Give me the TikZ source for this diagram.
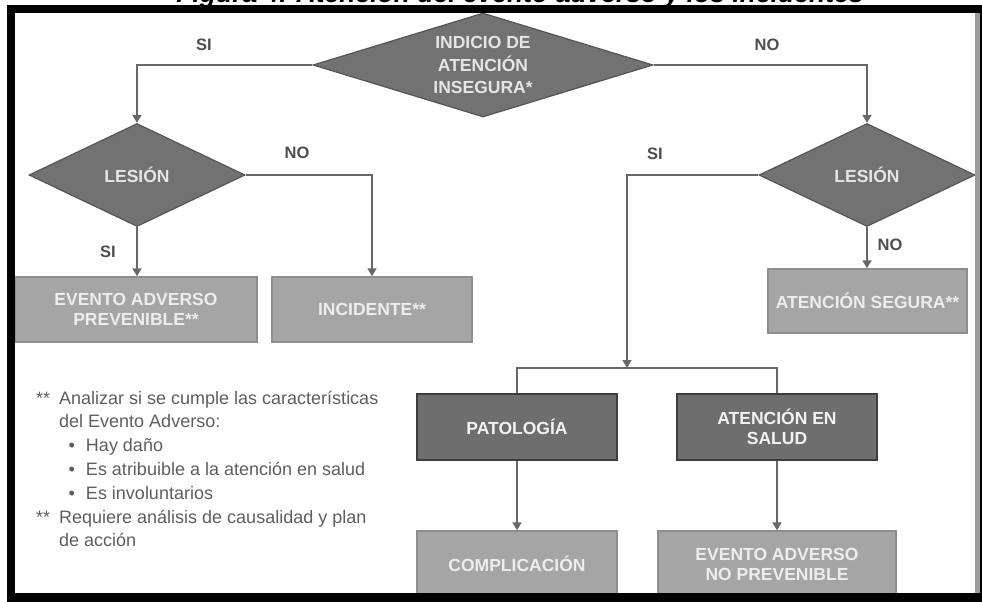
\documentclass[tikz,border=0pt]{standalone}
\usepackage{fontspec}
\setmainfont{Liberation Sans}
\usetikzlibrary{positioning,shapes.geometric,arrows.meta}

\definecolor{diamfill}{HTML}{727272}
\definecolor{diamline}{HTML}{555555}
\definecolor{lightfill}{HTML}{A5A5A5}
\definecolor{lightline}{HTML}{8E8E8E}
\definecolor{darkfill}{HTML}{6E6E6E}
\definecolor{darkline}{HTML}{3E3E3E}
\definecolor{linecol}{HTML}{686868}
\definecolor{lblcol}{HTML}{4E4E4E}
\definecolor{notecol}{HTML}{5E5E5E}
\definecolor{striprgb}{HTML}{9A9A9A}

\begin{document}
\begin{tikzpicture}[x=1pt, y=1pt, node distance=110pt]
            \tikzset{
                decision/.style = {diamond, aspect=2.1, inner sep=0pt, minimum width=216pt, minimum height=103pt, line width=1.2pt, draw=diamline, fill=diamfill, text=white!90!black, align=center, font=\bfseries\fontsize{17.5}{22.5}\selectfont},
                lightbox/.style = {rectangle, line width=1.4pt, minimum width=200pt, minimum height=65pt, inner sep=1pt, text centered, align=center, draw=lightline, fill=lightfill, text=white!93!black, font=\bfseries\fontsize{17.5}{20}\selectfont},
                darkbox/.style = {lightbox, draw=darkline, fill=darkfill, text=white!95!black},
                lbl/.style = {text=lblcol, font=\bfseries\fontsize{16.5}{18}\selectfont},
                arrow/.style = {line width=1.8pt, draw=linecol, -{Triangle[width=9pt,length=8pt]}},
                link/.style = {line width=1.8pt, draw=linecol}
            }
            \useasboundingbox (0,0) rectangle (982,-602);
            \node (titulo) [anchor=base, font=\bfseries\itshape\fontsize{26.5}{30}\selectfont] at (520,-3) {Figura 4. Atención del evento adverso y los incidentes};

            \node (indicio) [decision, aspect=3.27, minimum width=340pt, minimum height=104pt] at (483,-65) {INDICIO DE\\ATENCIÓN\\INSEGURA*};
            \node (lesionL) [decision, below of=indicio, xshift=-346pt] {LESIÓN};
            \node (lesionR) [decision, below of=indicio, xshift=384pt] {LESIÓN};

            \node (eap) [lightbox, minimum width=242pt, below of=lesionL, xshift=-1pt, yshift=-24.5pt] {EVENTO ADVERSO\\PREVENIBLE**};
            \node (incid) [lightbox, right of=eap, xshift=126pt] {INCIDENTE**};
            \node (segura) [lightbox, minimum width=199pt, minimum height=64pt, below of=lesionR, xshift=0.5pt, yshift=-16pt] {ATENCIÓN SEGURA**};

            \coordinate[below of=lesionR, xshift=-240pt, yshift=-83pt] (split);
            \node (patol) [darkbox, minimum height=66pt, below of=incid, xshift=145pt, yshift=-7.5pt] {PATOLOGÍA};
            \node (atsalud) [darkbox, minimum height=66pt, right of=patol, xshift=150pt] {ATENCIÓN EN\\SALUD};
            \node (compl) [lightbox, minimum height=66pt, below of=patol, yshift=-27pt] {COMPLICACIÓN};
            \node (eanp) [lightbox, minimum width=238pt, minimum height=66pt, below of=atsalud, yshift=-27pt] {EVENTO ADVERSO\\NO PREVENIBLE};

            \draw [arrow] (indicio.west) -| (lesionL.north);
            \draw [arrow] (indicio.east) -| (lesionR.north);
            \draw [arrow] (lesionL.south) -- (lesionL.south |- eap.north);
            \draw [arrow] (lesionL.east) -| (incid.north);
            \draw [arrow] (lesionR.south) -- (lesionR.south |- segura.north);
            \draw [arrow] (lesionR.west) -| (split);
            \draw [link] (patol.north) |- (split) -| (atsalud.north);
            \draw [arrow] (patol.south) -- (compl.north);
            \draw [arrow] (atsalud.south) -- (eanp.north);

            \node (siTop) [lbl] at (204,-45) {SI};
            \node (noTop) [lbl] at (767,-45) {NO};
            \node (noL) [lbl] at (297,-153) {NO};
            \node (siL) [lbl] at (108,-252) {SI};
            \node (siR) [lbl] at (655,-154) {SI};
            \node (noR) [lbl] at (890,-245) {NO};

            % notas al pie
            \node (nota) [anchor=base west, inner sep=0pt, text=notecol, font=\fontsize{18}{23.8}\selectfont] at (36,-404) {%
                \begin{tabular}[t]{@{}p{23pt}@{}l@{}}
                {**} & Analizar si se cumple las características\\
                     & del Evento Adverso:\\
                     & \hspace{9.5pt}•\hspace{11pt}Hay daño\\
                     & \hspace{9.5pt}•\hspace{11pt}Es atribuible a la atención en salud\\
                     & \hspace{9.5pt}•\hspace{11pt}Es involuntarios\\
                {**} & Requiere análisis de causalidad y plan\\
                     & de acción
                \end{tabular}};

            % marco
            \fill [black] (7,-5) rectangle (982,-13);
            \fill [black] (7,-5) rectangle (15,-602);
            \fill [black] (7,-593) rectangle (982,-602);
            \fill [striprgb] (975,-13) rectangle (980,-593);
            \fill [black] (980,-5) rectangle (982,-602);
\end{tikzpicture}
\end{document}
